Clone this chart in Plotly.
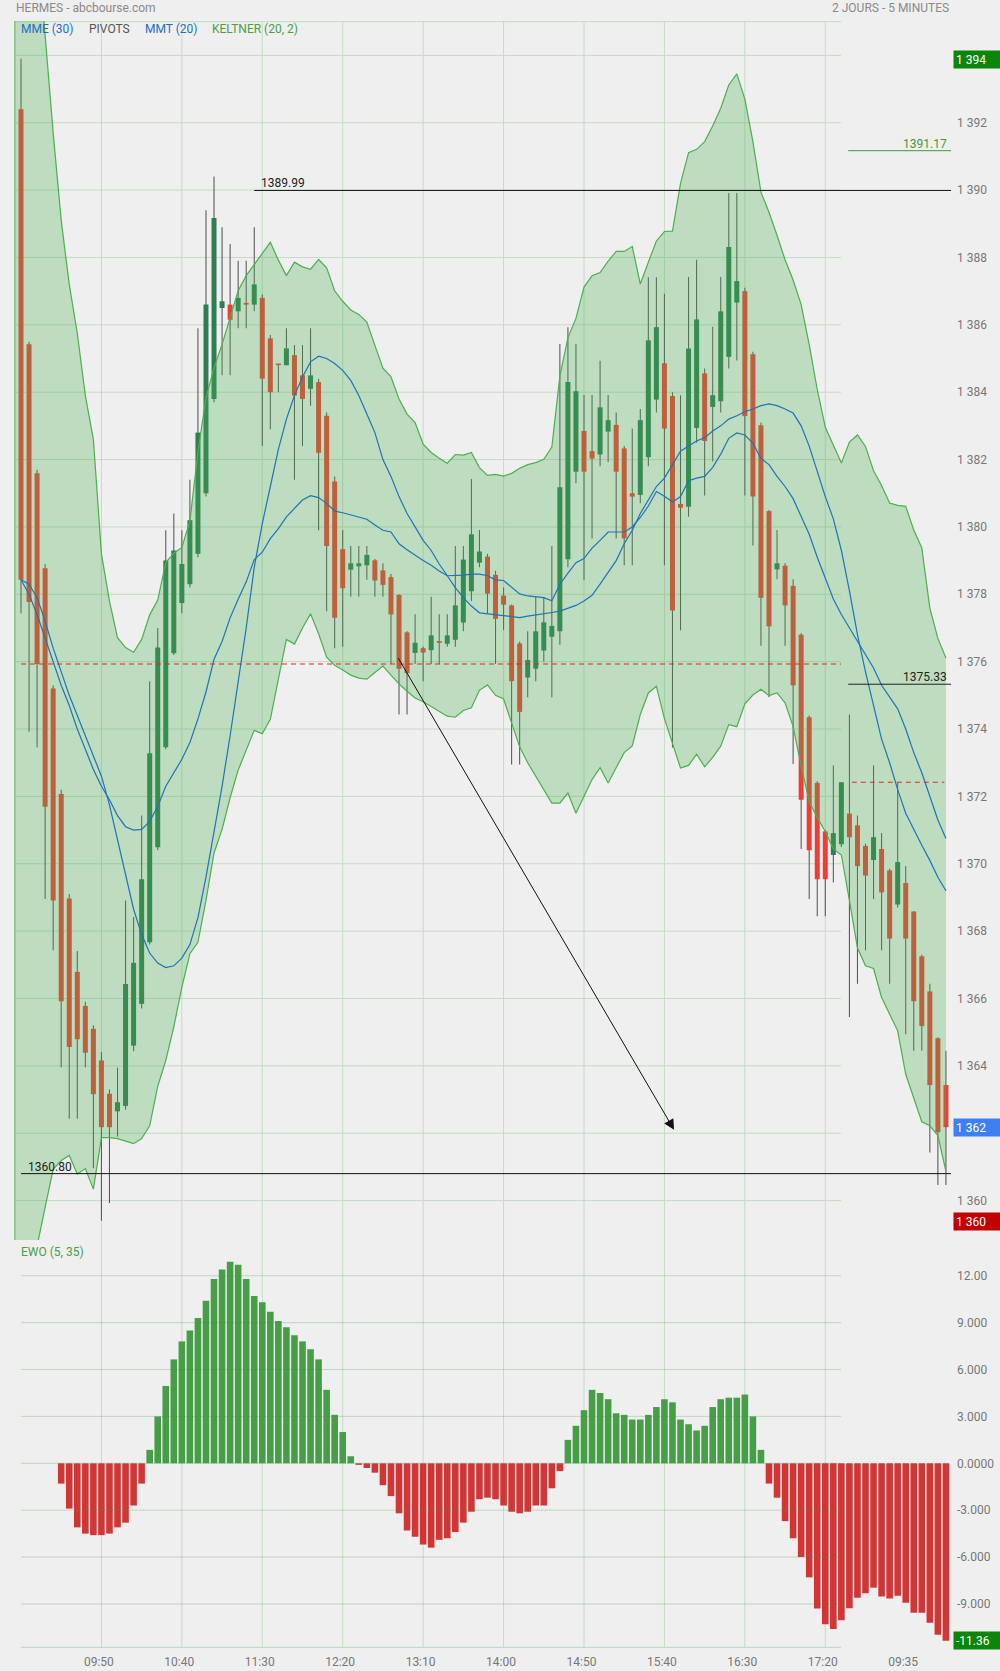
import plotly.graph_objects as go

# ---------------- data ----------------
candle_idx = list(range(116))
opens = [1392.4, 1385.42, 1381.59, 1378.77, 1375.20, 1372.07, 1368.97, 1366.79, 1365.78, 1365.10,
         1364.16, 1363.17, 1362.65, 1362.81, 1364.60, 1365.84, 1367.67, 1370.49, 1373.46, 1376.25,
         1377.74, 1378.3, 1379.2, 1381.0, 1383.8, 1386.5, 1386.6, 1386.4, 1386.6, 1386.6,
         1386.8, 1385.6, 1384.8, 1384.8, 1385.1, 1384.5, 1384.1, 1384.3, 1383.3, 1381.35,
         1379.34, 1378.73, 1378.83, 1378.86, 1379.01, 1378.71, 1378.51, 1377.98, 1376.87, 1376.26,
         1376.40, 1376.34, 1376.56, 1376.53, 1376.65, 1377.16, 1378.09, 1378.94, 1379.12, 1378.58,
         1377.96, 1377.67, 1376.54, 1375.53, 1375.79, 1376.33, 1376.74, 1376.90, 1379.04, 1381.64,
         1382.85, 1382.25, 1382.15, 1382.83, 1383.03, 1382.33, 1381.00, 1380.95, 1382.07, 1383.78,
         1384.86, 1383.89, 1380.68, 1380.60, 1382.94, 1384.56, 1383.56, 1383.73, 1385.05, 1386.66,
         1387.0, 1385.13, 1383.02, 1380.47, 1378.74, 1378.85, 1378.25, 1376.80, 1374.35, 1372.40,
         1370.96, 1370.26, 1370.58, 1371.49, 1371.14, 1370.53, 1370.11, 1370.44, 1369.80, 1368.79,
         1369.43, 1368.58, 1367.25, 1366.21, 1364.82, 1363.43]
highs = [1393.9, 1385.5, 1381.7, 1378.9, 1375.3, 1372.2, 1369.1, 1367.41, 1365.9, 1365.2,
         1364.41, 1363.3, 1363.95, 1368.91, 1368.42, 1371.43, 1375.42, 1377.0, 1379.9, 1380.4,
         1379.9, 1381.4, 1385.9, 1389.4, 1390.4, 1388.9, 1388.4, 1387.9, 1387.9, 1388.9,
         1386.9, 1385.7, 1384.8, 1385.9, 1385.4, 1385.4, 1385.9, 1384.4, 1383.4, 1381.5,
         1379.91, 1379.43, 1379.43, 1379.43, 1379.05, 1378.92, 1378.6, 1378.0, 1376.90, 1377.41,
         1376.45, 1377.93, 1377.41, 1377.41, 1379.43, 1379.43, 1381.42, 1379.91, 1379.2, 1378.7,
         1378.2, 1377.7, 1376.6, 1376.90, 1377.92, 1377.92, 1379.43, 1385.43, 1385.93, 1385.43,
         1383.92, 1383.92, 1384.93, 1383.92, 1383.40, 1382.4, 1382.92, 1383.5, 1387.41, 1387.41,
         1386.92, 1384.0, 1383.91, 1387.42, 1387.93, 1384.7, 1385.94, 1387.42, 1389.91, 1389.91,
         1387.1, 1385.2, 1383.1, 1380.5, 1379.91, 1378.92, 1378.45, 1376.85, 1374.4, 1372.45,
         1371.0, 1372.92, 1372.42, 1374.43, 1371.43, 1370.6, 1372.92, 1370.91, 1369.85, 1372.42,
         1369.93, 1368.6, 1367.3, 1366.44, 1364.85, 1364.45]
lows = [1377.44, 1373.92, 1373.45, 1368.95, 1367.43, 1363.95, 1362.43, 1362.43, 1363.95, 1360.96,
        1359.4, 1359.93, 1361.90, 1362.7, 1364.43, 1365.7, 1367.6, 1370.4, 1373.4, 1376.2,
        1377.44, 1378.2, 1379.1, 1380.9, 1383.7, 1384.5, 1384.5, 1385.9, 1385.9, 1386.4,
        1382.4, 1382.9, 1384.0, 1384.8, 1381.4, 1382.4, 1383.6, 1379.9, 1377.5, 1376.4,
        1376.44, 1377.93, 1377.93, 1378.43, 1377.93, 1377.93, 1375.93, 1374.43, 1374.43, 1375.93,
        1375.42, 1375.93, 1375.93, 1376.44, 1376.44, 1376.9, 1377.8, 1378.8, 1377.44, 1375.93,
        1376.93, 1372.95, 1372.95, 1374.94, 1375.42, 1376.0, 1374.94, 1376.5, 1378.8, 1381.3,
        1378.43, 1379.66, 1381.8, 1381.93, 1379.66, 1378.86, 1378.86, 1380.7, 1381.8, 1383.40,
        1378.86, 1373.45, 1376.93, 1380.3, 1382.5, 1380.93, 1381.94, 1383.4, 1384.7, 1384.94,
        1380.93, 1379.45, 1376.47, 1374.94, 1378.45, 1376.47, 1372.96, 1370.44, 1368.95, 1368.44,
        1368.44, 1369.44, 1370.5, 1365.45, 1366.44, 1367.43, 1368.95, 1367.43, 1366.44, 1368.7,
        1364.94, 1364.45, 1364.45, 1361.43, 1360.46, 1360.46]
closes = [1378.43, 1377.77, 1375.93, 1371.69, 1368.91, 1365.92, 1364.56, 1364.79, 1364.39, 1363.16,
          1362.18, 1362.18, 1362.92, 1366.43, 1367.06, 1369.54, 1373.28, 1376.42, 1379.0, 1379.3,
          1378.9, 1380.2, 1382.8, 1386.6, 1389.17, 1386.7, 1386.15, 1386.8, 1386.6, 1387.2,
          1384.4, 1384.0, 1384.8, 1385.3, 1383.9, 1383.8, 1384.5, 1382.2, 1379.43, 1377.3,
          1378.18, 1378.92, 1378.92, 1379.17, 1378.41, 1378.28, 1377.40, 1375.79, 1375.66, 1376.56,
          1376.27, 1376.78, 1376.56, 1376.78, 1377.67, 1379.03, 1379.78, 1379.27, 1378.02, 1377.27,
          1377.69, 1375.42, 1374.51, 1376.05, 1376.90, 1377.17, 1377.06, 1381.18, 1384.30, 1384.03,
          1381.64, 1382.03, 1383.55, 1383.17, 1381.64, 1379.66, 1380.90, 1383.17, 1385.54, 1385.93,
          1382.92, 1377.52, 1380.57, 1385.30, 1386.16, 1382.55, 1383.91, 1386.40, 1388.31, 1387.30,
          1383.29, 1380.90, 1377.90, 1377.05, 1378.92, 1377.67, 1375.30, 1371.90, 1370.40, 1369.54,
          1369.54, 1370.91, 1372.42, 1370.79, 1369.93, 1369.65, 1370.79, 1369.15, 1367.78, 1370.05,
          1367.78, 1365.92, 1365.18, 1363.43, 1362.03, 1362.18]

band_idx = list(range(-1, 116))
keltner_upper = [1406.0,
                 1403.0, 1400.5, 1397.5, 1394.6, 1391.7, 1389.1, 1387.2, 1385.75, 1383.9, 1382.6,
                 1379.2, 1377.8, 1376.71, 1376.42, 1376.28, 1376.66, 1377.39, 1377.83, 1378.94, 1379.22,
                 1379.39, 1380.17, 1382.23, 1383.83, 1384.73, 1385.42, 1386.21, 1387.01, 1387.46, 1387.80,
                 1388.14, 1388.45, 1387.92, 1387.46, 1387.86, 1387.72, 1387.65, 1387.94, 1387.69, 1387.01,
                 1386.7, 1386.44, 1386.31, 1386.08, 1385.39, 1384.71, 1384.46, 1383.80, 1383.35, 1383.10,
                 1382.46, 1382.21, 1382.04, 1381.89, 1382.15, 1382.13, 1382.21, 1381.76, 1381.53, 1381.56,
                 1381.51, 1381.59, 1381.74, 1381.85, 1381.91, 1382.01, 1382.37, 1384.48, 1385.62, 1386.19,
                 1387.12, 1387.46, 1387.55, 1387.89, 1388.18, 1388.18, 1388.33, 1387.21, 1387.86, 1388.49,
                 1388.77, 1388.78, 1390.2, 1391.11, 1391.21, 1391.44, 1391.90, 1392.43, 1393.12, 1393.45,
                 1392.70, 1391.44, 1389.94, 1389.34, 1388.66, 1387.93, 1387.33, 1386.60, 1385.41, 1384.08,
                 1382.96, 1382.43, 1381.90, 1382.52, 1382.73, 1382.39, 1381.67, 1381.23, 1380.71, 1380.64,
                 1380.61, 1379.91, 1379.38, 1377.59, 1376.69, 1376.11]
keltner_lower = [1354.0,
                 1356.3, 1357.5, 1358.6, 1359.8, 1360.93, 1361.19, 1361.34, 1360.79, 1360.95, 1360.34,
                 1361.87, 1361.87, 1361.84, 1361.77, 1361.69, 1361.84, 1362.22, 1363.39, 1364.16, 1365.16,
                 1366.33, 1367.33, 1367.67, 1368.91, 1370.32, 1371.02, 1371.96, 1372.78, 1373.37, 1373.96,
                 1373.86, 1374.29, 1375.48, 1376.66, 1376.52, 1377.0, 1377.42, 1376.83, 1376.13, 1375.89,
                 1375.75, 1375.6, 1375.51, 1375.48, 1375.68, 1375.87, 1375.60, 1375.34, 1375.12, 1374.92,
                 1374.81, 1374.66, 1374.51, 1374.38, 1374.35, 1374.55, 1374.63, 1375.15, 1375.31, 1375.00,
                 1374.89, 1374.15, 1373.47, 1373.0, 1372.6, 1372.2, 1371.8, 1371.8, 1372.1, 1371.5,
                 1372.0, 1372.5, 1372.85, 1372.4, 1372.85, 1373.3, 1373.5, 1374.43, 1375.07, 1375.27,
                 1374.31, 1373.55, 1372.84, 1372.92, 1373.25, 1372.88, 1373.16, 1373.49, 1374.13, 1374.07,
                 1374.75, 1375.01, 1375.18, 1374.99, 1375.07, 1374.78, 1374.07, 1372.90, 1371.84, 1371.37,
                 1370.96, 1370.44, 1370.26, 1368.91, 1367.50, 1366.97, 1366.89, 1366.03, 1365.51, 1365.04,
                 1363.75, 1363.04, 1362.34, 1362.22, 1361.93, 1360.87]

mmt20 = [1378.43, 1378.3, 1377.9, 1377.2, 1376.4, 1375.7, 1375.0, 1374.4, 1373.8, 1373.2,
         1372.6, 1371.75, 1370.7, 1369.6, 1368.65, 1367.9, 1367.35, 1367.05, 1366.92, 1366.97,
         1367.2, 1367.6, 1368.4, 1369.6, 1370.9, 1372.3, 1373.8, 1375.4, 1377.0, 1378.8,
         1380.1, 1381.2, 1382.3, 1383.2, 1383.9, 1384.45, 1384.9, 1385.07, 1385.0, 1384.85,
         1384.65, 1384.35, 1383.9, 1383.35, 1382.8, 1382.0, 1381.5, 1380.9, 1380.4, 1380.0,
         1379.6, 1379.3, 1378.9, 1378.55, 1378.2, 1377.9, 1377.65, 1377.45, 1377.42, 1377.40,
         1377.35, 1377.32, 1377.31, 1377.35, 1377.38, 1377.42, 1377.46, 1377.5, 1377.58, 1377.67,
         1377.8, 1377.97, 1378.3, 1378.65, 1379.0, 1379.5, 1379.9, 1380.4, 1380.8, 1381.2,
         1381.45, 1381.85, 1382.25, 1382.4, 1382.55, 1382.65, 1382.85, 1383.0, 1383.2, 1383.3,
         1383.42, 1383.5, 1383.6, 1383.65, 1383.6, 1383.5, 1383.38, 1383.0, 1382.4, 1381.65,
         1380.9, 1380.24, 1379.3, 1378.1, 1376.8, 1375.7, 1374.65, 1373.7, 1373.0, 1372.2,
         1371.5, 1371.0, 1370.55, 1370.1, 1369.6, 1369.2]
mme30 = [1378.43, 1378.0, 1377.4, 1376.7, 1376.0, 1375.3, 1374.7, 1374.0, 1373.4, 1372.8,
         1372.3, 1371.9, 1371.43, 1371.1, 1371.0, 1371.02, 1371.26, 1371.7, 1372.3, 1372.7,
         1373.1, 1373.6, 1374.3, 1375.1, 1376.07, 1376.6, 1377.3, 1377.85, 1378.37, 1379.03,
         1379.25, 1379.65, 1379.95, 1380.3, 1380.55, 1380.8, 1380.93, 1380.87, 1380.70, 1380.47,
         1380.42, 1380.36, 1380.3, 1380.23, 1380.06, 1379.9, 1379.85, 1379.5, 1379.32, 1379.15,
         1379.0, 1378.86, 1378.69, 1378.55, 1378.55, 1378.57, 1378.6, 1378.6, 1378.55, 1378.43,
         1378.41, 1378.2, 1378.01, 1377.95, 1377.92, 1377.9, 1377.81, 1378.3, 1378.63, 1378.94,
         1379.06, 1379.37, 1379.6, 1379.85, 1379.85, 1379.85, 1380.0, 1380.28, 1380.62, 1381.05,
         1380.91, 1380.74, 1380.9, 1381.37, 1381.45, 1381.5, 1381.77, 1382.16, 1382.63, 1382.79,
         1382.73, 1382.49, 1382.03, 1381.85, 1381.5, 1381.2, 1380.84, 1380.3, 1379.78, 1379.1,
         1378.5, 1377.86, 1377.4, 1377.0, 1376.6, 1376.2, 1375.81, 1375.3, 1374.95, 1374.6,
         1374.0, 1373.3, 1372.7, 1371.99, 1371.3, 1370.75]

ewo_idx = list(range(5, 116))
ewo = [-1.3, -2.9, -4.1, -4.5, -4.6, -4.6, -4.5, -4.1, -3.8, -2.7,
       -1.3, 0.86, 3.0, 4.95, 6.65, 7.8, 8.5, 9.3, 10.4, 11.8,
       12.4, 12.9, 12.7, 11.8, 10.7, 10.3, 9.7, 9.1, 8.7, 8.2,
       7.8, 7.3, 6.65, 4.7, 3.1, 2.0, 0.45, -0.1, -0.3, -0.6,
       -1.4, -2.1, -3.2, -4.3, -4.7, -5.2, -5.4, -4.9, -4.8, -4.4,
       -3.8, -3.1, -2.3, -2.2, -2.3, -2.7, -3.1, -3.2, -3.1, -2.7,
       -2.7, -1.6, -0.5, 1.5, 2.4, 3.4, 4.7, 4.5, 4.1, 3.2,
       3.1, 2.8, 2.8, 3.1, 3.6, 4.1, 3.9, 2.8, 2.5, 2.1,
       2.4, 3.6, 4.1, 4.2, 4.2, 4.4, 3.0, 0.86, -1.3, -2.2,
       -3.7, -4.8, -6.0, -7.3, -9.3, -10.3, -10.6, -10.05, -9.28, -8.60,
       -8.32, -7.96, -8.53, -8.66, -8.47, -8.92, -9.56, -9.56, -10.20, -10.97,
       -11.36]

time_tick_idx = [10, 20, 30, 40, 50, 60, 70, 80, 90, 100, 110]
time_tick_labels = ["09:50", "10:40", "11:30", "12:20", "13:10", "14:00",
                    "14:50", "15:40", "16:30", "17:20", "09:35"]
price_ticks = list(range(1360, 1394, 2))
price_grid = list(range(1360, 1396, 2))
ewo_ticks = [12, 9, 6, 3, 0, -3, -6, -9]
ewo_tick_labels = ["12.00", "9.000", "6.000", "3.000", "0.0000", "-3.000", "-6.000", "-9.000"]

resistance_level = 1389.99
support_level = 1360.80
pivot_day1 = 1375.93
pivot_day2 = 1372.42
r_day2 = 1391.17
s_day2 = 1375.33
arrow_start = (46.8, 1376.15)
arrow_end = (81.2, 1362.1)
top_box_value = 1394
low_box_value = "1 360"

# ---------------- styling ----------------
BG = "#efefef"
GRID = "#c3dcc3"
RED = "#ec3e35"
GREEN = "#2f7d52"
EWO_GREEN = "#469e46"
EWO_RED = "#d03636"
BAND = "#4caf50"
MA = "#1f74b5"
FONT = "Roboto"

W, H = 1000, 1671
ML, MR, MT, MB = 14, 49, 21, 23
PLOT_W = W - ML - MR
PLOT_H = H - MT - MB
x_range = [-0.87, 115.63]
y_range = [1358.83, 1395.02]
y2_range = [-11.82, 14.29]
split = 408 / PLOT_H
grid_end = 101.95
label_shift = -0.32  # time labels sit slightly left of their grid line


def fmt_price(v):
    v = int(round(v))
    return f"{v // 1000} {v % 1000:03d}"


def px_x(px):
    return (px - ML) / PLOT_W


def px_y(py):
    return (H - MB - py) / PLOT_H


fig = go.Figure()

fig.add_trace(go.Bar(x=candle_idx, base=lows, y=[h - l for h, l in zip(highs, lows)],
                     width=0.13, marker=dict(color="#555555", line=dict(width=0)),
                     xaxis="x", yaxis="y", hoverinfo="skip"))
body_base = [min(o, c) for o, c in zip(opens, closes)]
body_h = [max(abs(c - o), 0.05) for o, c in zip(opens, closes)]
body_col = [GREEN if c > o else RED for o, c in zip(opens, closes)]
fig.add_trace(go.Bar(x=candle_idx, base=body_base, y=body_h, width=0.62,
                     marker=dict(color=body_col, line=dict(width=0)),
                     xaxis="x", yaxis="y", hoverinfo="skip"))
fig.add_trace(go.Scatter(x=band_idx, y=keltner_lower, mode="lines",
                         line=dict(color=BAND, width=1.2), xaxis="x", yaxis="y"))
fig.add_trace(go.Scatter(x=band_idx, y=keltner_upper, mode="lines", fill="tonexty",
                         fillcolor="rgba(76,175,80,0.30)",
                         line=dict(color=BAND, width=1.2), xaxis="x", yaxis="y"))
fig.add_trace(go.Scatter(x=candle_idx, y=mmt20, mode="lines",
                         line=dict(color=MA, width=1.2), xaxis="x", yaxis="y"))
fig.add_trace(go.Scatter(x=candle_idx, y=mme30, mode="lines",
                         line=dict(color=MA, width=1.2), xaxis="x", yaxis="y"))
fig.add_trace(go.Bar(x=ewo_idx, y=ewo, width=0.82,
                     marker=dict(color=[EWO_GREEN if v >= 0 else EWO_RED for v in ewo],
                                 line=dict(width=0)),
                     xaxis="x", yaxis="y2", hoverinfo="skip"))

shapes = []
for v in price_grid:
    shapes.append(dict(type="line", xref="x", yref="y", x0=x_range[0], x1=grid_end, y0=v, y1=v,
                       line=dict(color=GRID, width=1), layer="below"))
shapes.append(dict(type="line", xref="x", yref="y", x0=x_range[0], x1=grid_end,
                   y0=y_range[1] - 0.02, y1=y_range[1] - 0.02,
                   line=dict(color=GRID, width=1), layer="below"))
for t in time_tick_idx[:-1]:
    shapes.append(dict(type="line", xref="x", yref="paper", x0=t, x1=t, y0=0, y1=1,
                       line=dict(color=GRID, width=1), layer="below"))
shapes.append(dict(type="line", xref="x", yref="paper", x0=-0.8, x1=-0.8, y0=split, y1=1,
                   line=dict(color="#86c486", width=2), layer="above"))
for v in ewo_ticks:
    shapes.append(dict(type="line", xref="x", yref="y2", x0=0, x1=grid_end, y0=v, y1=v,
                       line=dict(color="rgba(60,150,60,0.27)", width=1), layer="above"))
shapes.append(dict(type="line", xref="x", yref="y2", x0=0, x1=grid_end,
                   y0=y2_range[0] + 0.03, y1=y2_range[0] + 0.03,
                   line=dict(color=GRID, width=1.5), layer="above"))
shapes.append(dict(type="line", xref="x", yref="y", x0=29, x1=x_range[1],
                   y0=resistance_level, y1=resistance_level, line=dict(color="#111", width=1)))
shapes.append(dict(type="line", xref="x", yref="y", x0=0, x1=x_range[1],
                   y0=support_level, y1=support_level, line=dict(color="#111", width=1)))
shapes.append(dict(type="line", xref="x", yref="y", x0=0, x1=grid_end,
                   y0=pivot_day1, y1=pivot_day1, line=dict(color="#d62a2a", width=1, dash="5px,4px")))
shapes.append(dict(type="line", xref="x", yref="y", x0=103.3, x1=114.8,
                   y0=pivot_day2, y1=pivot_day2, line=dict(color="#d62a2a", width=1, dash="5px,4px")))
shapes.append(dict(type="line", xref="x", yref="y", x0=102.85, x1=x_range[1],
                   y0=r_day2, y1=r_day2, line=dict(color="#3c9c3c", width=1)))
shapes.append(dict(type="line", xref="x", yref="y", x0=102.85, x1=x_range[1],
                   y0=s_day2, y1=s_day2, line=dict(color="#222", width=1)))

ann = []


def txt(text, x, y, xref, yref, color, xanchor="left", yanchor="middle", size=12, **kw):
    d = dict(text=text, x=x, y=y, xref=xref, yref=yref, showarrow=False,
             font=dict(family=FONT, size=size, color=color), xanchor=xanchor, yanchor=yanchor)
    d.update(kw)
    ann.append(d)


txt("HERMES - abcbourse.com", 0, px_y(8), "paper", "paper", "#8a8a8a")
txt("2 JOURS - 5 MINUTES", 1, px_y(8), "paper", "paper", "#8a8a8a", xanchor="right")
leg_y = px_y(29)
txt("MME (30)", px_x(19.3), leg_y, "paper", "paper", "#1e6ec8")
txt("PIVOTS", px_x(86.7), leg_y, "paper", "paper", "#555555")
txt("MMT (20)", px_x(142.7), leg_y, "paper", "paper", "#1e6ec8")
txt("KELTNER (20, 2)", px_x(210), leg_y, "paper", "paper", "#47a047")
txt("EWO (5, 35)", px_x(19), px_y(1252), "paper", "paper", "#47a047")

txt(f"{resistance_level:.2f}", 29.6, resistance_level, "x", "y", "#222", yanchor="bottom", yshift=-2)
txt(f"{support_level:.2f}", 0.6, support_level, "x", "y", "#222", yanchor="bottom", yshift=-2)
txt(f"{r_day2:.2f}", px_x(949), r_day2, "paper", "y", "#3c9c3c", xanchor="right", yanchor="bottom", yshift=-2)
txt(f"{s_day2:.2f}", px_x(949), s_day2, "paper", "y", "#222", xanchor="right", yanchor="bottom", yshift=-2)


def box(text, y, yref, bg):
    ann.append(dict(text=text, x=px_x(953), y=y, xref="paper", yref=yref, showarrow=False,
                    xanchor="left", yanchor="middle", align="left", width=43, height=13,
                    bgcolor=bg, borderpad=2,
                    font=dict(family=FONT, size=12, color="white")))


box(fmt_price(top_box_value), 1393.87, "y", "#0b850b")
box(fmt_price(closes[-1]), closes[-1], "y", "#3f7ef3")
box(low_box_value, px_y(1221), "paper", "#c20000")
box(f"{ewo[-1]:.2f}", ewo[-1], "y2", "#0b850b")

ann.append(dict(x=arrow_end[0], y=arrow_end[1], ax=arrow_start[0], ay=arrow_start[1],
                xref="x", yref="y", axref="x", ayref="y", text="", showarrow=True,
                arrowhead=2, arrowsize=2.1, arrowwidth=1, arrowcolor="#111", standoff=0))

covered = int(round(closes[-1]))
price_ticktext = ["" if v == covered else fmt_price(v) for v in price_ticks]

fig.update_layout(
    width=W, height=H, margin=dict(l=ML, r=MR, t=MT, b=MB, pad=0, autoexpand=False),
    paper_bgcolor=BG, plot_bgcolor=BG, showlegend=False, barmode="overlay",
    hovermode=False, font=dict(family=FONT, size=12, color="#777"),
    xaxis=dict(range=x_range, domain=[0, 1], anchor="y2",
               tickvals=[t + label_shift for t in time_tick_idx],
               ticktext=time_tick_labels, showgrid=False, zeroline=False, showline=False,
               ticks="", automargin=False, ticklabelstandoff=5,
               tickfont=dict(family=FONT, size=12, color="#777")),
    yaxis=dict(range=y_range, domain=[split, 1], anchor="x", side="right",
               tickvals=price_ticks, ticktext=price_ticktext, automargin=False,
               showgrid=False, zeroline=False, showline=False, ticks="",
               ticklabelstandoff=5, tickfont=dict(family=FONT, size=12, color="#777")),
    yaxis2=dict(range=y2_range, domain=[0, split], anchor="x", side="right",
                tickvals=ewo_ticks, ticktext=ewo_tick_labels, automargin=False,
                showgrid=False, zeroline=False, showline=False, ticks="",
                ticklabelstandoff=5, tickfont=dict(family=FONT, size=12, color="#777")),
    shapes=shapes, annotations=ann,
)

fig.write_html(
    "out.html",
    config={"displayModeBar": False, "staticPlot": True},
    post_script="document.body.style.margin='0px';"
                "document.body.style.backgroundColor='#efefef';"
                "document.body.style.overflow='hidden';",
)
